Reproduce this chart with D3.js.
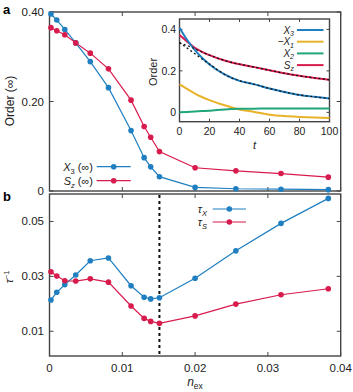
<!DOCTYPE html>
<html><head><meta charset="utf-8">
<script src="https://cdn.jsdelivr.net/npm/d3@7"></script>
<style>body{margin:0;background:#fff}svg{display:block;font-family:"Liberation Sans",Arial,sans-serif}</style>
</head><body><svg id="c" width="353" height="392"></svg>
<script>
// ---- data ----
const nex = [0.0002, 0.001, 0.0021, 0.0036, 0.0056, 0.0081, 0.0112, 0.0130, 0.0139, 0.0151, 0.0200, 0.0256, 0.0318, 0.0383];
const X3inf = [0.3955, 0.382, 0.361, 0.331, 0.289, 0.231, 0.135, 0.0745, 0.054, 0.032, 0.008, 0.005, 0.004, 0.003];
const Szinf = [0.365, 0.358, 0.349, 0.331, 0.308, 0.273, 0.203, 0.144, 0.120, 0.088, 0.052, 0.045, 0.039, 0.031];
const tauX = [0.0214, 0.0242, 0.0270, 0.0305, 0.0357, 0.0367, 0.0266, 0.0224, 0.0218, 0.0222, 0.0293, 0.0393, 0.0493, 0.0584];
const tauS = [0.0317, 0.0301, 0.0284, 0.0283, 0.0291, 0.0279, 0.0192, 0.0147, 0.0136, 0.0129, 0.0156, 0.0199, 0.0233, 0.0255];
const nCrit = 0.0151;
const tIn = [0, 5, 10, 15, 20, 30, 40, 50, 60, 70, 80, 90, 100];
const inX3 = [0.408, 0.350, 0.302, 0.263, 0.231, 0.183, 0.152, 0.135, 0.115, 0.098, 0.084, 0.075, 0.067];
const inX1 = [0.135, 0.113, 0.092, 0.074, 0.059, 0.034, 0.014, 0.002, -0.011, -0.018, -0.022, -0.025, -0.027];
const inX2 = [0.0, 0.002, 0.004, 0.006, 0.008, 0.014, 0.017, 0.018, 0.019, 0.019, 0.019, 0.019, 0.019];
const inSz = [0.373, 0.342, 0.312, 0.292, 0.276, 0.250, 0.232, 0.218, 0.203, 0.188, 0.176, 0.166, 0.157];
const fitX3 = [0.337, 0.310, 0.284, 0.257, 0.233, 0.183, 0.152, 0.135, 0.115, 0.098, 0.084, 0.075, 0.067];
const fitSz = [0.335, 0.322, 0.308, 0.291, 0.276, 0.250, 0.232, 0.218, 0.203, 0.188, 0.176, 0.166, 0.157];
const xTicks = [0, 0.01, 0.02, 0.03, 0.04];
const aTicks = [0, 0.20, 0.40];
const bTicks = [0.01, 0.03, 0.05];
const inXTicks = [0, 20, 40, 60, 80, 100];
const inYTicks = [0, 0.2, 0.4];

const BLUE = "#1f7fc0", RED = "#d81b4d", ORANGE = "#e8b32a", GREEN = "#20a67b", FRAME = "#444";
const svg = d3.select("#c");

const x = d3.scaleLinear().domain([0, 0.04]).range([49.5, 340.7]);
const ya = d3.scaleLinear().domain([0, 0.40]).range([191, 12]);
const yb = d3.scaleLinear().domain([0.001, 0.06]).range([356, 194]);
const xi = d3.scaleLinear().domain([0, 100]).range([179.5, 329.5]);
const yi = d3.scaleLinear().domain([-0.045, 0.45]).range([121.7, 19]);

function frame(xs, ys, xt, yt, len) {
  const g = svg.append("g");
  const [x0, x1] = xs.range(), [y0, y1] = ys.range();
  xt.forEach(v => {
    const px = xs(v);
    g.append("line").attr("x1", px).attr("x2", px).attr("y1", y0).attr("y2", y0 - len).attr("stroke", FRAME);
    g.append("line").attr("x1", px).attr("x2", px).attr("y1", y1).attr("y2", y1 + len).attr("stroke", FRAME);
  });
  yt.forEach(v => {
    const py = ys(v);
    g.append("line").attr("x1", x0).attr("x2", x0 + len).attr("y1", py).attr("y2", py).attr("stroke", FRAME);
    g.append("line").attr("x1", x1).attr("x2", x1 - len).attr("y1", py).attr("y2", py).attr("stroke", FRAME);
  });
  g.append("rect").attr("x", x0).attr("y", y1).attr("width", x1 - x0).attr("height", y0 - y1)
    .attr("fill", "none").attr("stroke", FRAME).attr("stroke-width", 1.4);
  return g;
}

// panel a
frame(x, ya, xTicks, aTicks, 4);
svg.append("g").selectAll("text").data(aTicks).join("text")
  .attr("x", 44).attr("y", d => ya(d) + 4).attr("text-anchor", "end").attr("font-size", 11.5).attr("fill", "#222")
  .text(d => d === 0 ? "0" : d3.format(".2f")(d));

function series(xs, ys, xv, yv, col, r) {
  const line = d3.line().x((d, i) => xs(xv[i])).y(d => ys(d));
  svg.append("path").attr("d", line(yv)).attr("fill", "none").attr("stroke", col).attr("stroke-width", 1.2);
  svg.append("g").selectAll("circle").data(yv).join("circle")
    .attr("cx", (d, i) => xs(xv[i])).attr("cy", d => ys(d)).attr("r", r).attr("fill", col);
}
series(x, ya, nex, X3inf, BLUE, 2.8);
series(x, ya, nex, Szinf, RED, 2.8);

// legend a
function legItem(lx0, lx1, ly, col, label, tx) {
  svg.append("line").attr("x1", lx0).attr("x2", lx1).attr("y1", ly).attr("y2", ly).attr("stroke", col).attr("stroke-width", 1.2);
  svg.append("circle").attr("cx", (lx0 + lx1) / 2).attr("cy", ly).attr("r", 2.8).attr("fill", col);
  const t = svg.append("text").attr("x", tx).attr("y", ly + 4).attr("text-anchor", "end").attr("font-size", 11).attr("fill", "#222");
  label(t);
}
legItem(96.7, 130.7, 166.7, BLUE, t => {
  t.append("tspan").attr("font-style", "italic").text("X");
  t.append("tspan").attr("font-size", 7.5).attr("dy", 3).text("3");
  t.append("tspan").attr("dy", -3).text(" (∞)");
}, 93);
legItem(96.7, 130.7, 180.7, RED, t => {
  t.append("tspan").attr("font-style", "italic").text("S");
  t.append("tspan").attr("font-size", 7.5).attr("font-style", "italic").attr("dy", 3).text("z");
  t.append("tspan").attr("dy", -3).text(" (∞)");
}, 93);

// axis label a
svg.append("text").attr("transform", "translate(14,101) rotate(-90)").attr("text-anchor", "middle")
  .attr("font-size", 12).attr("fill", "#222").text("Order (∞)");

// inset
svg.append("rect").attr("x", 179.5).attr("y", 19).attr("width", 150).attr("height", 102.7).attr("fill", "#fff");
frame(xi, yi, inXTicks, inYTicks, 3);
svg.append("g").selectAll("text").data(inXTicks).join("text")
  .attr("x", d => xi(d)).attr("y", 135).attr("text-anchor", "middle").attr("font-size", 10.5).attr("fill", "#222").text(d => d);
svg.append("g").selectAll("text").data(inYTicks).join("text")
  .attr("x", 176).attr("y", d => yi(d) + 4).attr("text-anchor", "end").attr("font-size", 10.5).attr("fill", "#222").text(d => d);
const il = d3.line().x((d, i) => xi(tIn[i])).y(d => yi(d)).curve(d3.curveMonotoneX);
[[inX1, ORANGE], [inX2, GREEN], [inSz, RED], [inX3, BLUE]].forEach(([v, c]) => {
  svg.append("path").attr("d", il(v)).attr("fill", "none").attr("stroke", c).attr("stroke-width", 2);
});
[fitX3, fitSz].forEach(v => {
  svg.append("path").attr("d", il(v)).attr("fill", "none").attr("stroke", "#111").attr("stroke-width", 1.3).attr("stroke-dasharray", "2,2.5");
});
svg.append("text").attr("x", 254.5).attr("y", 149).attr("text-anchor", "middle").attr("font-size", 11).attr("font-style", "italic").attr("fill", "#222").text("t");
svg.append("text").attr("transform", "translate(157,72) rotate(-90)").attr("text-anchor", "middle")
  .attr("font-size", 11).attr("fill", "#222").text("Order");
// inset legend
const inLeg = [
  [BLUE, t => { t.append("tspan").text("X"); t.append("tspan").attr("font-size", 7).attr("dy", 2.5).text("3"); }],
  [ORANGE, t => { t.append("tspan").text("−X"); t.append("tspan").attr("font-size", 7).attr("dy", 2.5).text("1"); }],
  [GREEN, t => { t.append("tspan").text("X"); t.append("tspan").attr("font-size", 7).attr("dy", 2.5).text("2"); }],
  [RED, t => { t.append("tspan").text("S"); t.append("tspan").attr("font-size", 7).attr("dy", 2.5).text("z"); }]
];
inLeg.forEach(([c, f], i) => {
  const ly = 30 + i * 11.7;
  svg.append("line").attr("x1", 297).attr("x2", 323.5).attr("y1", ly).attr("y2", ly).attr("stroke", c).attr("stroke-width", 2);
  const t = svg.append("text").attr("x", 294).attr("y", ly + 3.5).attr("text-anchor", "end").attr("font-size", 10)
    .attr("font-style", "italic").attr("fill", "#222");
  f(t);
});

// panel b
frame(x, yb, xTicks, bTicks, 4);
svg.append("g").selectAll("text").data(bTicks).join("text")
  .attr("x", 44).attr("y", d => yb(d) + 4).attr("text-anchor", "end").attr("font-size", 11.5).attr("fill", "#222")
  .text(d => d3.format(".2f")(d));
svg.append("g").selectAll("text").data(xTicks).join("text")
  .attr("x", d => x(d)).attr("y", 372).attr("text-anchor", "middle").attr("font-size", 11.5).attr("fill", "#222")
  .text(d => d === 0 ? "0" : d3.format(".2f")(d));
svg.append("line").attr("x1", x(nCrit)).attr("x2", x(nCrit)).attr("y1", yb.range()[1] + 1).attr("y2", yb.range()[0] - 1)
  .attr("stroke", "#111").attr("stroke-width", 2).attr("stroke-dasharray", "3,3");
series(x, yb, nex, tauX, BLUE, 2.8);
series(x, yb, nex, tauS, RED, 2.8);
legItem(212.7, 246, 209, BLUE, t => {
  t.append("tspan").attr("font-style", "italic").text("τ");
  t.append("tspan").attr("font-size", 7.5).attr("font-style", "italic").attr("dy", 3).text("X");
}, 207);
legItem(212.7, 246, 222, RED, t => {
  t.append("tspan").attr("font-style", "italic").text("τ");
  t.append("tspan").attr("font-size", 7.5).attr("font-style", "italic").attr("dy", 3).text("S");
}, 207);
const tl = svg.append("text").attr("transform", "translate(13,277) rotate(-90)").attr("text-anchor", "middle")
  .attr("font-size", 11).attr("fill", "#222");
tl.append("tspan").attr("font-style", "italic").text("τ");
tl.append("tspan").attr("font-size", 7.5).attr("dy", -4).text("−1");
const nl = svg.append("text").attr("x", 195).attr("y", 386).attr("text-anchor", "middle").attr("font-size", 12).attr("fill", "#222");
nl.append("tspan").attr("font-style", "italic").text("n");
nl.append("tspan").attr("font-size", 8.5).attr("dy", 3).text("ex");

// panel letters
svg.append("text").attr("x", 3).attr("y", 14).attr("font-size", 13).attr("font-weight", "bold").text("a");
svg.append("text").attr("x", 3).attr("y", 201).attr("font-size", 13).attr("font-weight", "bold").text("b");
</script></body></html>
